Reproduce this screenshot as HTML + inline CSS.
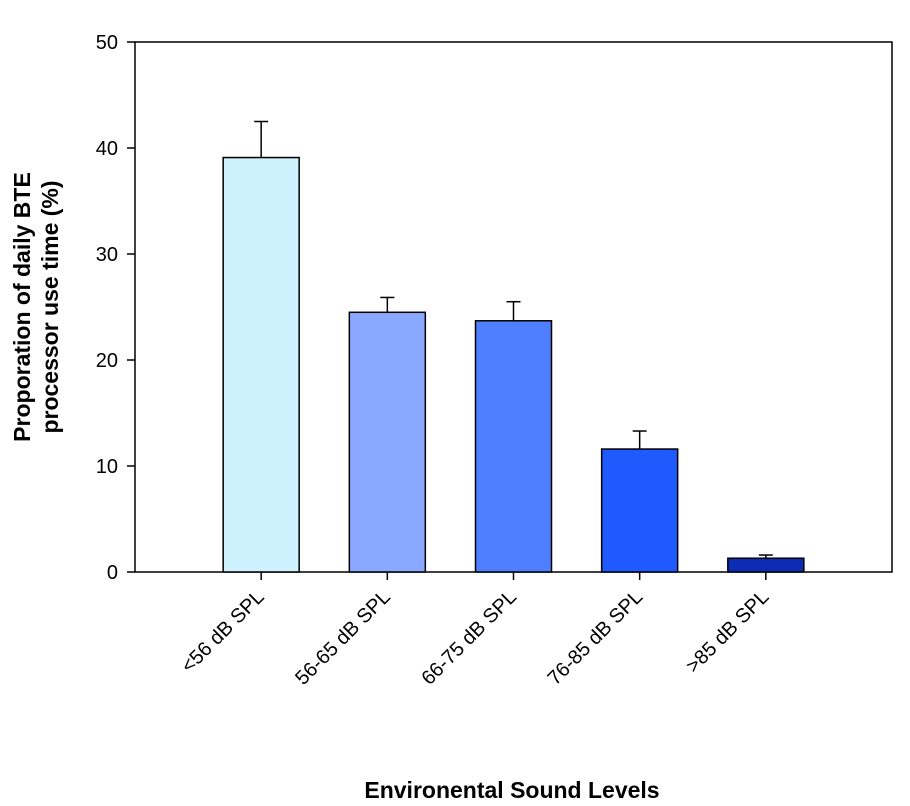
<!DOCTYPE html>
<html><head><meta charset="utf-8"><style>
html,body{margin:0;padding:0;background:#fff;}
svg{display:block;font-family:"Liberation Sans",Arial,sans-serif;}
</style></head><body>
<svg id="chart" width="910" height="806"></svg>
<script>
const categories=["<56 dB SPL","56-65 dB SPL","66-75 dB SPL","76-85 dB SPL",">85 dB SPL"];
const values=[39.1,24.5,23.7,11.6,1.3];
const errors=[3.4,1.4,1.8,1.7,0.3];
const yTicks=[0,10,20,30,40,50];
const colors=["#cdf2fd","#8aa8ff","#4f7fff","#1f5aff","#0b2db5"];
const NS="http://www.w3.org/2000/svg";
const svg=document.getElementById("chart");
const L=135,R=892,T=42,B=572,yMax=50;
const y=v=>B-(v/yMax)*(B-T);
const step=(R-L)/6;
const xc=i=>L+step*(i+1);
const bw=76;
function mk(tag,attrs,parent){const e=document.createElementNS(NS,tag);for(const k in attrs)e.setAttribute(k,attrs[k]);(parent||svg).appendChild(e);return e;}
let e;
e=mk("rect",{x:L,y:T,width:R-L,height:B-T,fill:"none",stroke:"#000","stroke-width":1.5});


yTicks.forEach(t=>{
  const tk=mk("line",{x1:L-8,x2:L,y1:y(t),y2:y(t),stroke:"#000","stroke-width":1.5});
  
  
  const lb=mk("text",{x:L-17,y:y(t)+7,"text-anchor":"end","font-size":20});
  lb.textContent=t;
  
  
});
categories.forEach((c,i)=>{
  const cx=xc(i);
  const eb=mk("line",{x1:cx,x2:cx,y1:y(values[i]),y2:y(values[i]+errors[i]),stroke:"#000","stroke-width":1.5});
  
  
  const cap=mk("line",{x1:cx-7,x2:cx+7,y1:y(values[i]+errors[i]),y2:y(values[i]+errors[i]),stroke:"#000","stroke-width":1.5});
  
  
  const b=mk("rect",{x:cx-bw/2,y:y(values[i]),width:bw,height:B-y(values[i]),fill:colors[i],stroke:"#000","stroke-width":1.5});
  
  
  const tk=mk("line",{x1:cx,x2:cx,y1:B,y2:B+8,stroke:"#000","stroke-width":1.5});
  
  
  const lb=mk("text",{x:cx+4,y:B+26,"text-anchor":"end","font-size":20,transform:`rotate(-45 ${cx+4} ${B+26})`});
  lb.textContent=c;
  
  
});
e=mk("text",{x:512,y:798,"text-anchor":"middle","font-size":23,"font-weight":"bold"});
e.textContent="Environental Sound Levels";


const yt=mk("text",{"text-anchor":"middle","font-size":23,"font-weight":"bold",transform:"translate(30 307) rotate(-90)"});


const s1=mk("tspan",{x:0,y:0},yt);s1.textContent="Proporation of daily BTE";
const s2=mk("tspan",{x:0,y:28},yt);s2.textContent="processor use time (%)";
</script>
</body></html>
